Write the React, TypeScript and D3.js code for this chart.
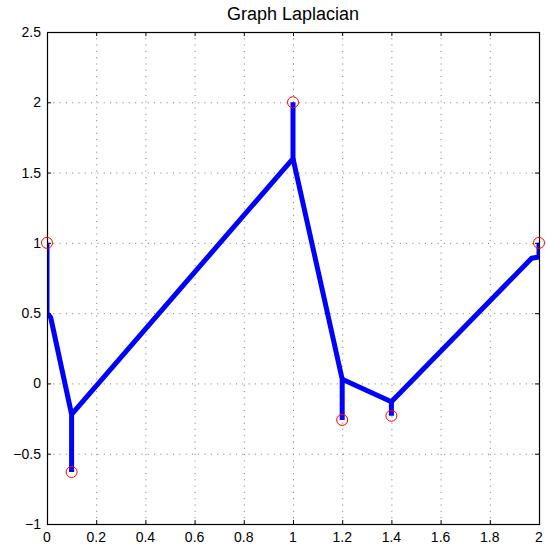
import { useEffect, useRef } from 'react';
import { select, scaleLinear, line } from 'd3';

// nodes of the graph (red circles)
const nodeX = [0, 0.1, 1, 1.2, 1.4, 2];
const nodeY = [1, -0.63, 2, -0.26, -0.23, 1];

// blue polylines (tree branches)
const branches: [number, number][][] = [
  [[0, 1], [0, 0.5], [0.015, 0.47], [0.1, -0.22], [0.1, -0.63]],
  [[0.1, -0.22], [1, 1.6], [1, 2]],
  [[1, 1.6], [1.2, 0.03], [1.2, -0.26]],
  [[1.2, 0.03], [1.4, -0.13], [1.4, -0.23]],
  [[1.4, -0.13], [1.97, 0.89], [2, 0.9], [2, 1]],
];

const xTicks = [0, 0.2, 0.4, 0.6, 0.8, 1, 1.2, 1.4, 1.6, 1.8, 2];
const yTicks = [-1, -0.5, 0, 0.5, 1, 1.5, 2, 2.5];

const W = 546;
const H = 548;
const m = { top: 32, right: 7, bottom: 24, left: 47 };

const render = (el: SVGSVGElement) => {
  const svg = select(el);
  svg.selectAll('*').remove();
  const iw = W - m.left - m.right;
  const ih = H - m.top - m.bottom;
  const x = scaleLinear().domain([0, 2]).range([0, iw]);
  const y = scaleLinear().domain([-1, 2.5]).range([ih, 0]);
  const fmt = (v: number) => String(v).replace('-', '\u2212');

  svg
    .append('text')
    .attr('x', m.left + iw / 2)
    .attr('y', 20)
    .attr('text-anchor', 'middle')
    .attr('font-size', 18)
    .text('Graph Laplacian');

  const g = svg.append('g').attr('transform', `translate(${m.left},${m.top})`);

  svg
    .append('clipPath')
    .attr('id', 'plotclip')
    .append('rect')
    .attr('width', iw)
    .attr('height', ih);

  // grid
  g.selectAll('.gx')
    .data(xTicks.slice(1, -1))
    .enter()
    .append('line')
    .attr('x1', (d) => x(d) + 0.5)
    .attr('x2', (d) => x(d) + 0.5)
    .attr('y1', 0)
    .attr('y2', ih)
    .attr('stroke', '#777')
    .attr('stroke-width', 1)
    .attr('stroke-dasharray', '1,5.3');
  g.selectAll('.gy')
    .data(yTicks.slice(1, -1))
    .enter()
    .append('line')
    .attr('y1', (d) => y(d) + 0.5)
    .attr('y2', (d) => y(d) + 0.5)
    .attr('x1', 0)
    .attr('x2', iw)
    .attr('stroke', '#777')
    .attr('stroke-width', 1)
    .attr('stroke-dasharray', '1,5.3');

  // inner ticks
  const tl = 4;
  xTicks.forEach((t) => {
    g.append('line').attr('x1', x(t) + 0.5).attr('x2', x(t) + 0.5).attr('y1', ih).attr('y2', ih - tl).attr('stroke', '#000');
    g.append('line').attr('x1', x(t) + 0.5).attr('x2', x(t) + 0.5).attr('y1', 0).attr('y2', tl).attr('stroke', '#000');
  });
  yTicks.forEach((t) => {
    g.append('line').attr('y1', y(t) + 0.5).attr('y2', y(t) + 0.5).attr('x1', 0).attr('x2', tl).attr('stroke', '#000');
    g.append('line').attr('y1', y(t) + 0.5).attr('y2', y(t) + 0.5).attr('x1', iw).attr('x2', iw - tl).attr('stroke', '#000');
  });

  // branches, clipped to the axes box
  const path = line<[number, number]>()
    .x((d) => x(d[0]))
    .y((d) => y(d[1]));
  g.append('g')
    .attr('clip-path', 'url(#plotclip)')
    .selectAll('.br')
    .data(branches)
    .enter()
    .append('path')
    .attr('d', path)
    .attr('fill', 'none')
    .attr('stroke', '#0000ff')
    .attr('stroke-width', 5)
    .attr('stroke-linejoin', 'round')
    .attr('stroke-linecap', 'butt');

  // frame
  g.append('rect')
    .attr('x', 0.5)
    .attr('y', 0.5)
    .attr('width', iw)
    .attr('height', ih)
    .attr('fill', 'none')
    .attr('stroke', '#000')
    .attr('stroke-width', 1.2);

  // tick labels
  g.selectAll('.xl')
    .data(xTicks)
    .enter()
    .append('text')
    .attr('x', (d) => x(d))
    .attr('y', ih + 18)
    .attr('text-anchor', 'middle')
    .attr('font-size', 14)
    .text(fmt);
  g.selectAll('.yl')
    .data(yTicks)
    .enter()
    .append('text')
    .attr('x', -6)
    .attr('y', (d) => y(d) + 5)
    .attr('text-anchor', 'end')
    .attr('font-size', 14)
    .text(fmt);

  // nodes
  g.selectAll('.nd')
    .data(nodeX)
    .enter()
    .append('circle')
    .attr('cx', (d) => x(d))
    .attr('cy', (_, i) => y(nodeY[i]))
    .attr('r', 5.5)
    .attr('fill', 'none')
    .attr('stroke', '#ff0000')
    .attr('stroke-width', 1);
};

export default function App() {
  const ref = useRef<SVGSVGElement>(null);
  useEffect(() => {
    if (ref.current) render(ref.current);
  }, []);
  return (
    <svg
      ref={ref}
      width={W}
      height={H}
      style={{ position: 'absolute', left: 0, top: 0, fontFamily: 'Liberation Sans, Arial, sans-serif', background: '#fff' }}
    />
  );
}
